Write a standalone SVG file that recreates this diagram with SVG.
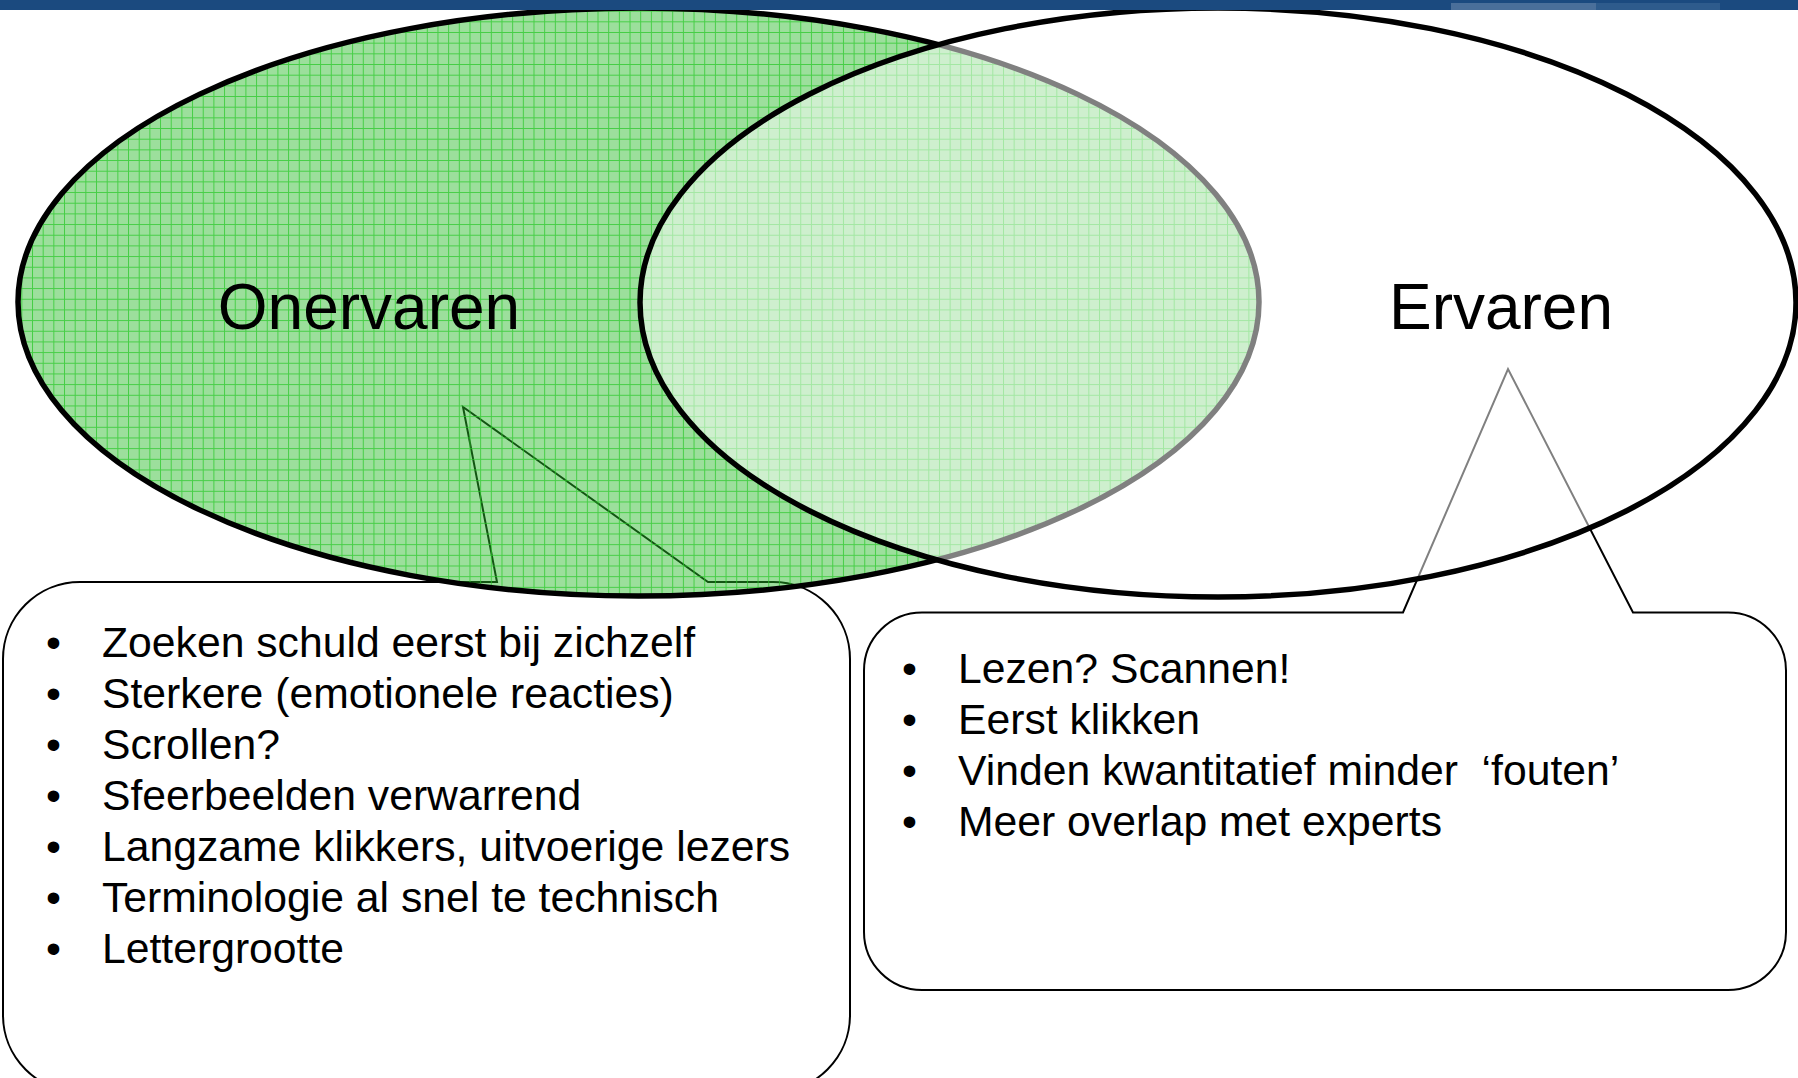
<svg xmlns="http://www.w3.org/2000/svg" width="1798" height="1078" viewBox="0 0 1798 1078">
  <style>
    .callout { fill: #ffffff; stroke: #000000; stroke-width: 2; stroke-linejoin: miter; }
    .ell { stroke: #000000; stroke-width: 5.5; }
    .head { font-family: "Liberation Sans", Arial, sans-serif; font-size: 64px; fill: #000000; text-anchor: middle; }
    .item { font-family: "Liberation Sans", Arial, sans-serif; font-size: 42.7px; fill: #000000; }
  </style>
  <defs>
    <pattern id="grid" patternUnits="userSpaceOnUse" width="10.67" height="10.67">
      <rect width="10.67" height="10.67" fill="rgb(40,185,40)" fill-opacity="0.46"/>
      <path d="M0,0.5 H10.67 M0.5,0 V10.67" stroke="rgb(40,200,40)" stroke-opacity="0.75" stroke-width="1" fill="none"/>
    </pattern>
  </defs>
  <rect x="0" y="0" width="1798" height="1078" fill="#ffffff"/>

  <g id="connectors">
    <path id="callout-left" class="callout" d="M80,582 L497,582 L463,407 L708,582 L773,582 A77,77 0 0 1 850,659 L850,1015 A77,77 0 0 1 773,1092 L80,1092 A77,77 0 0 1 3,1015 L3,659 A77,77 0 0 1 80,582 Z"/>
    <path id="callout-right" class="callout" d="M922,612.5 L1403,612.5 L1508,369 L1633,612.5 L1728,612.5 A58,58 0 0 1 1786,670.5 L1786,932 A58,58 0 0 1 1728,990 L922,990 A58,58 0 0 1 864,932 L864,670.5 A58,58 0 0 1 922,612.5 Z"/>
  </g>

  <g id="node-onervaren">
    <ellipse class="ell" cx="638.5" cy="302" rx="620.5" ry="294" fill="url(#grid)"/>
  </g>
  <g id="node-ervaren">
    <ellipse class="ell" cx="1218" cy="302.5" rx="578" ry="294.5" fill="#ffffff" fill-opacity="0.5"/>
  </g>

  <g id="labels">
    <text class="head" x="369" y="329">Onervaren</text>
    <text class="head" x="1501" y="329">Ervaren</text>
  </g>

  <g id="node-list-left">
    <text class="item" x="46" y="657">•</text>
    <text class="item" x="102" y="657">Zoeken schuld eerst bij zichzelf</text>
    <text class="item" x="46" y="708">•</text>
    <text class="item" x="102" y="708">Sterkere (emotionele reacties)</text>
    <text class="item" x="46" y="759">•</text>
    <text class="item" x="102" y="759">Scrollen?</text>
    <text class="item" x="46" y="810">•</text>
    <text class="item" x="102" y="810">Sfeerbeelden verwarrend</text>
    <text class="item" x="46" y="861">•</text>
    <text class="item" x="102" y="861">Langzame klikkers, uitvoerige lezers</text>
    <text class="item" x="46" y="912">•</text>
    <text class="item" x="102" y="912">Terminologie al snel te technisch</text>
    <text class="item" x="46" y="963">•</text>
    <text class="item" x="102" y="963">Lettergrootte</text>
  </g>

  <g id="node-list-right">
    <text class="item" x="902" y="683">•</text>
    <text class="item" x="958" y="683">Lezen? Scannen!</text>
    <text class="item" x="902" y="734">•</text>
    <text class="item" x="958" y="734">Eerst klikken</text>
    <text class="item" x="902" y="785">•</text>
    <text class="item" x="958" y="785" xml:space="preserve">Vinden kwantitatief minder  ‘fouten’</text>
    <text class="item" x="902" y="836">•</text>
    <text class="item" x="958" y="836">Meer overlap met experts</text>
  </g>

  <g id="topbar">
    <rect x="0" y="0" width="1798" height="10" fill="#1b4a7f"/>
    <rect x="1451" y="3" width="145" height="7" fill="#4a6f9a"/>
    <rect x="1596" y="3" width="124" height="7" fill="#2e5b8c"/>
  </g>
</svg>
